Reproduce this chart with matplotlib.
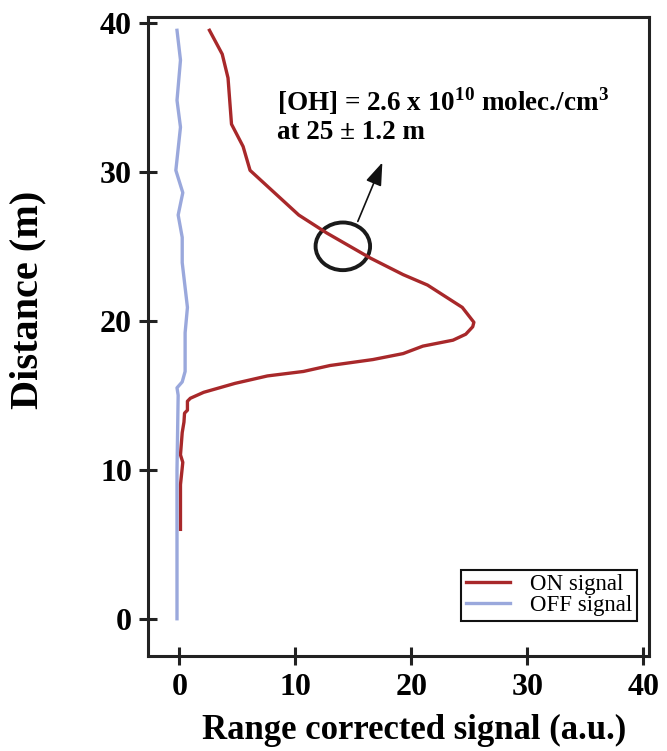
import matplotlib

matplotlib.use("Agg")
import matplotlib.pyplot as plt
from matplotlib.patches import Ellipse

plt.rcParams["font.family"] = ["Liberation Serif", "DejaVu Serif"]
plt.rcParams["mathtext.fontset"] = "custom"
plt.rcParams["mathtext.rm"] = "Liberation Serif:bold"
plt.rcParams["mathtext.bf"] = "Liberation Serif:bold"

# ON signal (lidar, red)
on_signal = [0.1, 0.1, 0.3, 0.1, 0.25, 0.4, 0.45, 0.7, 0.7, 0.95, 2.1, 4.8, 7.6, 10.7, 13.0,
             16.7, 19.3, 21.0, 23.6, 24.7, 25.3, 25.4, 24.4, 21.4, 19.3, 16.5, 12.7, 10.3,
             6.1, 5.5, 4.5, 4.2, 3.7, 2.6]
on_dist = [6.0, 9.0, 10.5, 11.0, 12.5, 13.2, 13.8, 14.0, 14.6, 14.8, 15.2, 15.8, 16.3, 16.6, 17.0,
           17.4, 17.8, 18.3, 18.7, 19.1, 19.6, 19.9, 20.9, 22.4, 23.1, 24.2, 25.9, 27.1,
           30.1, 31.7, 33.2, 36.3, 37.9, 39.5]

# OFF signal (blue)
off_signal = [-0.2, -0.2, -0.1, -0.2, 0.25, 0.5, 0.5, 0.7, 0.25, 0.25, -0.1, 0.3, -0.3, 0.1,
              -0.2, 0.1, -0.2]
off_dist = [0.0, 10.0, 15.0, 15.5, 15.9, 16.6, 19.2, 20.9, 23.9, 25.6, 27.1, 28.6, 30.1, 33.0,
            34.8, 37.5, 39.5]

ticks = [0, 10, 20, 30, 40]
oh_text = r"[OH] = 2.6 x 10$^{\mathbf{10}}$ molec./cm$^{\mathbf{3}}$"
alt_text = "at 25 \u00b1 1.2 m"

fig = plt.figure(figsize=(6.67, 7.51), dpi=100)
ax = fig.add_axes([0.2219, 0.1265, 0.7511, 0.851])

ax.plot(on_signal, on_dist, color="#a8282a", lw=2.4, label="ON signal", solid_joinstyle="round")
ax.plot(off_signal, off_dist, color="#9aa8dc", lw=2.4, label="OFF signal", solid_joinstyle="round")

ax.set_xlim(-2.7, 40.5)
ax.set_ylim(-2.5, 40.4)
ax.set_xticks(ticks)
ax.set_yticks(ticks)
for s in ax.spines.values():
    s.set_linewidth(2.2)
    s.set_color("#222222")
ax.tick_params(axis="both", direction="inout", length=13, width=2.2, color="#222222",
               labelsize=23, pad=5)
ax.tick_params(axis="x", pad=6)
for lab in ax.get_xticklabels() + ax.get_yticklabels():
    lab.set_fontweight("bold")

ax.set_xlabel("Range corrected signal (a.u.)", fontsize=25, fontweight="bold")
ax.set_ylabel("Distance (m)", fontsize=29, fontweight="bold")
ax.xaxis.set_label_coords(0.531, -0.117)
ax.yaxis.set_label_coords(-0.24, 0.557)
ax.xaxis.label.set_va("center")
ax.yaxis.label.set_va("center")

# annotation: circle + arrow + concentration text
ax.add_patch(Ellipse((14.1, 25.0), 4.7, 3.2, fill=False, ec="#1a1a1a", lw=2.8))
ax.annotate("", xy=(17.6, 30.8), xytext=(15.3, 26.5),
            arrowprops=dict(arrowstyle="-|>,head_length=1.4,head_width=0.5", color="#111111", lw=1.2))
ax.text(8.45, 34.1, oh_text, fontsize=19.5, fontweight="bold", va="baseline")
ax.text(8.45, 32.2, alt_text, fontsize=19.5, fontweight="bold", va="baseline")

leg = ax.legend(loc="lower right", bbox_to_anchor=(0.976, 0.055), borderaxespad=0,
                fancybox=False, framealpha=1, edgecolor="#111111", fontsize=16.5,
                handlelength=1.9, borderpad=0.2, labelspacing=0.0, handletextpad=0.9)
leg.get_frame().set_linewidth(1.5)

fig.savefig("out.png", dpi=100)
